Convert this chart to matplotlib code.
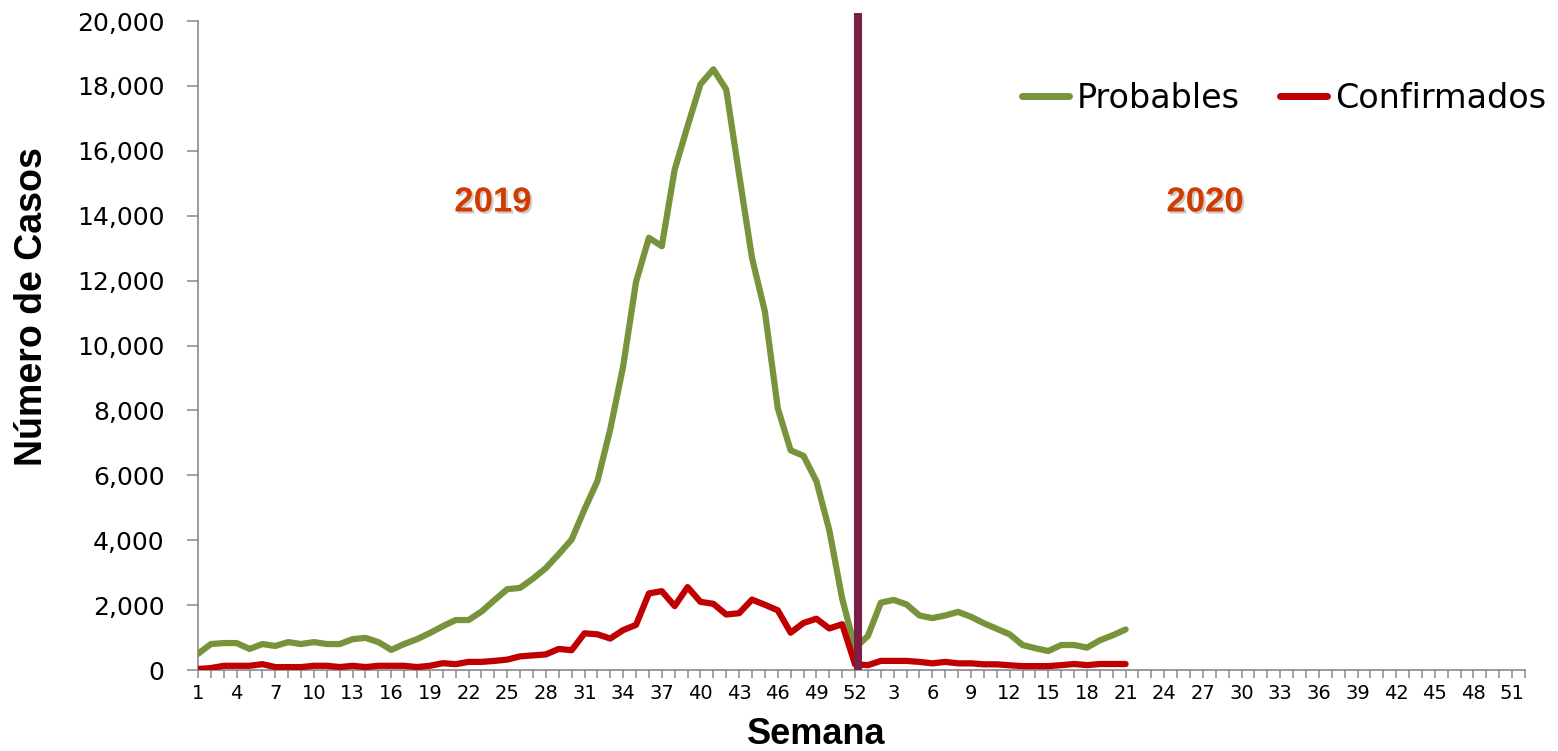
import numpy as np
import matplotlib
matplotlib.use("Agg")
import matplotlib.pyplot as plt
import matplotlib.patheffects as pe
from matplotlib.ticker import FuncFormatter

# weekly cases, 2019 (weeks 1-52) and 2020 (weeks 1-21)
probables_2019 = [500, 800, 830, 830, 650, 800, 740, 860, 800, 860,
                  800, 800, 950, 990, 860, 620, 800, 950, 1140, 1350,
                  1540, 1540, 1800, 2150, 2490, 2530, 2815, 3140, 3570, 4020,
                  4950, 5820, 7420, 9360, 11960, 13320, 13060, 15420, 16760, 18050,
                  18510, 17890, 15270, 12700, 11050, 8070, 6770, 6600, 5820, 4310,
                  2200, 680]
probables_2020 = [1050, 2075, 2160, 2020, 1680, 1600, 1680, 1790, 1640, 1440,
                  1270, 1100, 770, 670, 585, 770, 770, 690, 915, 1070, 1250]

confirmados_2019 = [30, 60, 130, 130, 130, 180, 90, 90, 90, 130,
                    130, 90, 130, 90, 130, 130, 130, 90, 130, 210,
                    180, 250, 250, 280, 320, 420, 450, 480, 650, 610,
                    1130, 1100, 970, 1230, 1390, 2360, 2430, 1970, 2555, 2100,
                    2040, 1710, 1750, 2170, 2010, 1840, 1150, 1450, 1580, 1280,
                    1410, 175]
confirmados_2020 = [150, 280, 280, 280, 250, 205, 250, 205, 205, 175,
                    175, 145, 120, 120, 120, 150, 185, 150, 185, 185, 185]

weeks_per_year = 52
week_labels = list(range(1, 53)) + list(range(1, 53))

green = "#77933C"
red = "#C00000"
maroon = "#7B1F47"
year_color = "#D03C00"
axis_gray = "#898989"


def main():
    probables = probables_2019 + probables_2020
    confirmados = confirmados_2019 + confirmados_2020
    x_prob = np.arange(1, len(probables) + 1)
    x_conf = np.arange(1, len(confirmados) + 1)

    fig = plt.figure(figsize=(15.58, 7.51), dpi=100)
    ax = fig.add_axes([198 / 1558, 1 - 670 / 751, (1525 - 198) / 1558, (670 - 21) / 751])

    ax.plot(x_prob, probables, color=green, lw=4.5, solid_capstyle="round",
            solid_joinstyle="round", label="Probables", zorder=3)
    ax.plot(x_conf, confirmados, color=red, lw=4.5, solid_capstyle="round",
            solid_joinstyle="round", label="Confirmados", zorder=3)

    # year separator
    ax.plot([weeks_per_year + 0.25, weeks_per_year + 0.25], [0, 20250], color=maroon,
            lw=5.8, solid_capstyle="butt", clip_on=False, zorder=4)

    ax.set_xlim(1, len(week_labels))
    ax.set_ylim(0, 20000)

    ax.set_yticks(np.arange(0, 20001, 2000))
    ax.yaxis.set_major_formatter(FuncFormatter(lambda v, _: f"{int(v):,}"))

    pos = np.arange(1, len(week_labels) + 1)
    ax.set_xticks(pos)
    ax.set_xticklabels([str(w) if (p - 1) % 3 == 0 else "" for p, w in zip(pos, week_labels)])

    for side in ["top", "right"]:
        ax.spines[side].set_visible(False)
    for side in ["left", "bottom"]:
        ax.spines[side].set_color(axis_gray)
        ax.spines[side].set_linewidth(1.2)

    ax.tick_params(axis="y", length=8, width=1.1, color=axis_gray, pad=16,
                   labelsize=18, labelcolor="black")
    ax.tick_params(axis="x", length=6, width=1.1, color=axis_gray, pad=4,
                   labelsize=14, labelcolor="black")
    for lab in ax.get_yticklabels() + ax.get_xticklabels():
        lab.set_family("DejaVu Sans")

    fig.text(816 / 1558, 1 - 735 / 751, "Semana", ha="center", va="center",
             fontsize=26, fontweight="bold", family="Liberation Sans")
    fig.text(32 / 1558, 1 - 307 / 751, "Número de Casos", ha="center", va="center",
             rotation=90, fontsize=27, fontweight="bold", family="Liberation Sans")

    shadow = [pe.withSimplePatchShadow(offset=(1.5, -1.5), shadow_rgbFace="gray", alpha=0.4)]
    fig.text(493 / 1558, 1 - 202 / 751, "2019", ha="center", va="center", fontsize=25,
             fontweight="bold", color=year_color, family="Liberation Sans", path_effects=shadow)
    fig.text(1205 / 1558, 1 - 202 / 751, "2020", ha="center", va="center", fontsize=25,
             fontweight="bold", color=year_color, family="Liberation Sans", path_effects=shadow)

    leg = fig.legend(loc="center", bbox_to_anchor=(1284 / 1558, 1 - 98 / 751), ncol=2,
                     frameon=False, handlelength=1.4, handletextpad=0.25,
                     columnspacing=1.2, prop={"family": "DejaVu Sans", "size": 24})
    for line in leg.get_lines():
        line.set_linewidth(5)

    fig.savefig("out.png", dpi=100)


if __name__ == "__main__":
    main()
